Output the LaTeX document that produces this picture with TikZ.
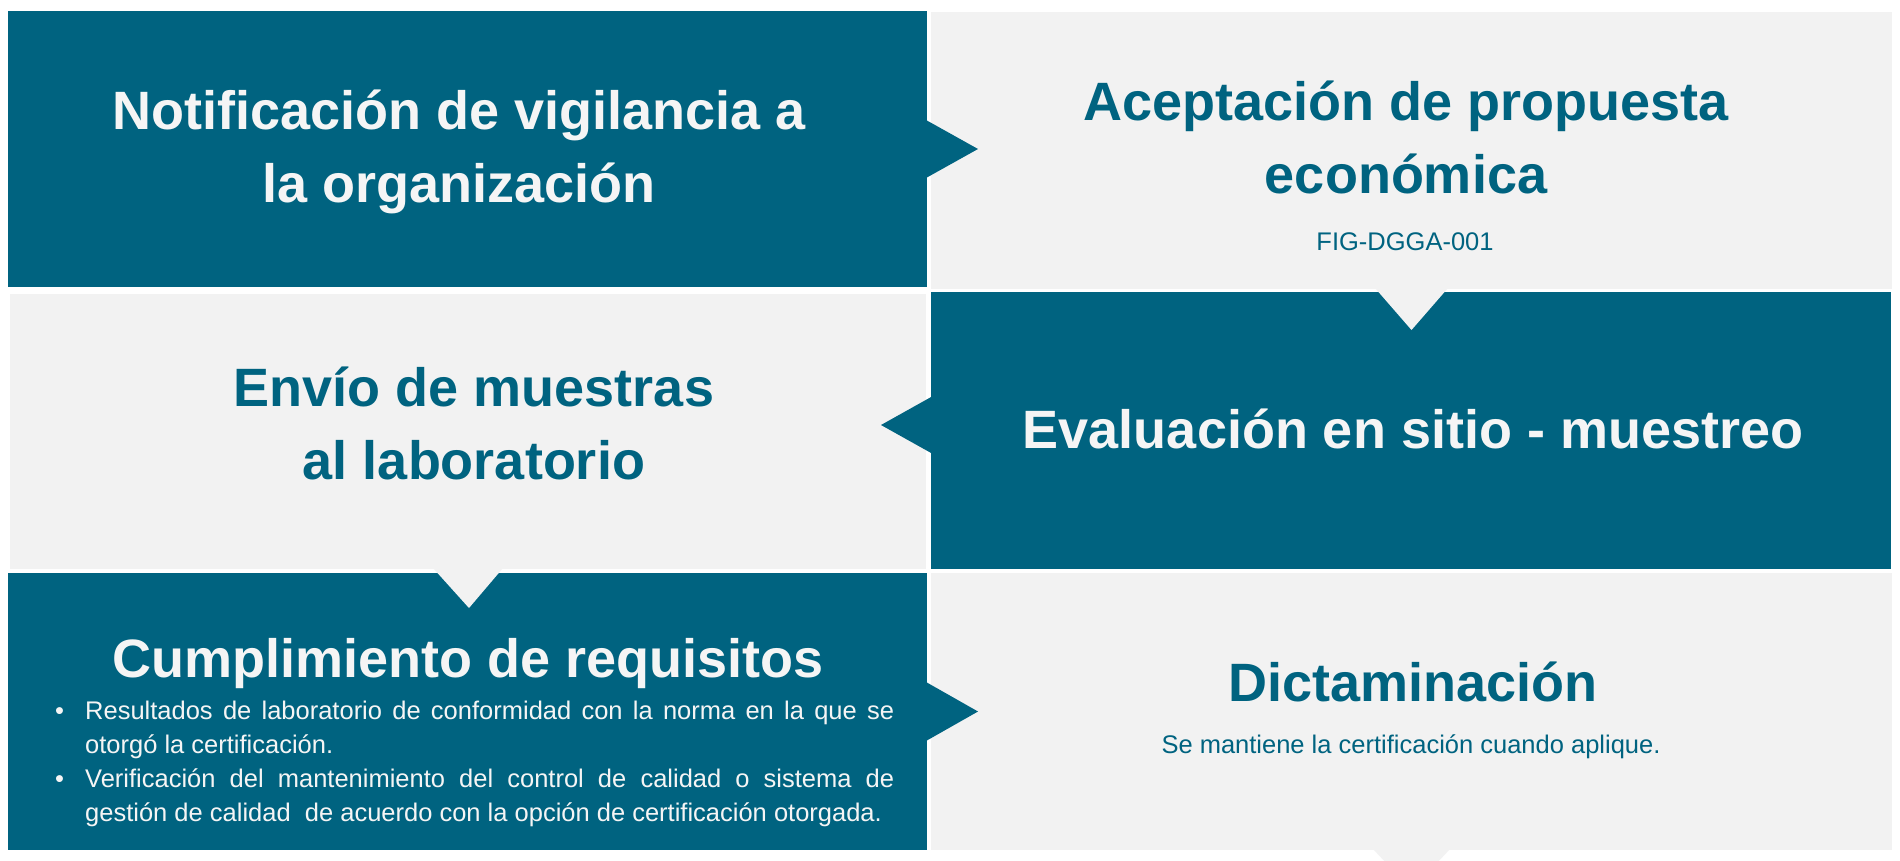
\documentclass[tikz,border=0pt]{standalone}
\usepackage{fontspec}
\setmainfont{Liberation Sans}
\definecolor{cblue}{RGB}{0,99,128}
\definecolor{cgray}{RGB}{242,242,242}
\definecolor{cwhite}{RGB}{245,245,245}
\newcommand{\twoline}[2]{\vtop{\halign{\hfil##\hfil\cr#1\cr#2\cr}}}
\begin{document}
\begin{tikzpicture}[x=1pt,y=-1pt,
  box/.style={rectangle, inner sep=0pt, outer sep=0pt, draw=none},
  bluebox/.style={box, fill=cblue},
  graybox/.style={box, fill=cgray},
  head/.style={inner sep=0pt, anchor=base, font=\fontsize{54}{73.5}\selectfont\bfseries},
  small/.style={inner sep=0pt, anchor=base, font=\fontsize{25.5}{34.3}\selectfont}]
\useasboundingbox (0,0) rectangle (1900,860);
\fill[white] (0,0) rectangle (1900,860);
\clip (0,0) rectangle (1900,860);
% boxes
\node[bluebox, minimum width=919pt, minimum height=276pt] (n1) at (467.5,149) {};
\node[graybox, minimum width=961pt, minimum height=277pt] (n2) at (1411.5,150.5) {};
\node[graybox, minimum width=916pt, minimum height=275pt] (n3) at (468,431.5) {};
\node[bluebox, minimum width=960pt, minimum height=277pt] (n4) at (1411,430.5) {};
\node[bluebox, minimum width=919pt, minimum height=277pt] (n5) at (467.5,711.5) {};
\node[graybox, minimum width=961pt, minimum height=277pt] (n6) at (1411.5,711.5) {};
% pointers
\fill[cblue] ([xshift=-1pt,yshift=29pt]n1.east) -- ([xshift=51pt]n1.east) -- ([xshift=-1pt,yshift=-29pt]n1.east) -- cycle;
\fill[cgray] ([xshift=-36.5pt,yshift=1pt]n2.south) -- ([yshift=-41pt]n2.south) -- ([xshift=36.5pt,yshift=1pt]n2.south) -- cycle;
\fill[cblue] ([xshift=1pt,yshift=34pt]n4.west) -- ([xshift=-50pt,yshift=5.5pt]n4.west) -- ([xshift=1pt,yshift=-23pt]n4.west) -- cycle;
\fill[cgray] ([xshift=-35pt,yshift=1pt]n3.south) -- ([xshift=1pt,yshift=-39pt]n3.south) -- ([xshift=35pt,yshift=1pt]n3.south) -- cycle;
\fill[cblue] ([xshift=-1pt,yshift=29.5pt]n5.east) -- ([xshift=51pt]n5.east) -- ([xshift=-1pt,yshift=-29.5pt]n5.east) -- cycle;
\fill[cgray] ([xshift=-38.5pt,yshift=1pt]n6.south) -- ([yshift=-40pt]n6.south) -- ([xshift=38.5pt,yshift=1pt]n6.south) -- cycle;
% texts
\node[head, text=cwhite] (h1) at (459,129) {\twoline{Notificación de vigilancia a}{la organización}};
\node[head, text=cblue] (h2) at (1406,120) {\twoline{Aceptación de propuesta}{económica}};
\node[small, text=cblue] (s2) at (1405,250) {FIG-DGGA-001};
\node[head, text=cblue] (h3) at (474,406) {\twoline{Envío de muestras}{al laboratorio}};
\node[head, text=cwhite] (h4) at (1413,448) {Evaluación en sitio - muestreo};
\node[head, text=cwhite] (h5) at (468,677) {Cumplimiento de requisitos};
\node[head, text=cblue] (h6) at (1413,701) {Dictaminación};
\node[small, text=cblue] (s6) at (1411,753) {Se mantiene la certificación cuando aplique.};
\node[small, anchor=base west, text=cwhite] (list) at (55,719) {\vtop{\hsize=839pt \parindent=0pt \tolerance=10000 \hyphenpenalty=10000
\hangindent=30pt\hangafter=1 \makebox[30pt][l]{•}Resultados de laboratorio de conformidad con la norma en la que se\linebreak otorgó la certificación.\par
\hangindent=30pt\hangafter=1 \makebox[30pt][l]{•}Verificación del mantenimiento del control de calidad o sistema de\linebreak gestión de calidad\ \ de acuerdo con la opción de certificación otorgada.\par}};
\end{tikzpicture}
\end{document}
